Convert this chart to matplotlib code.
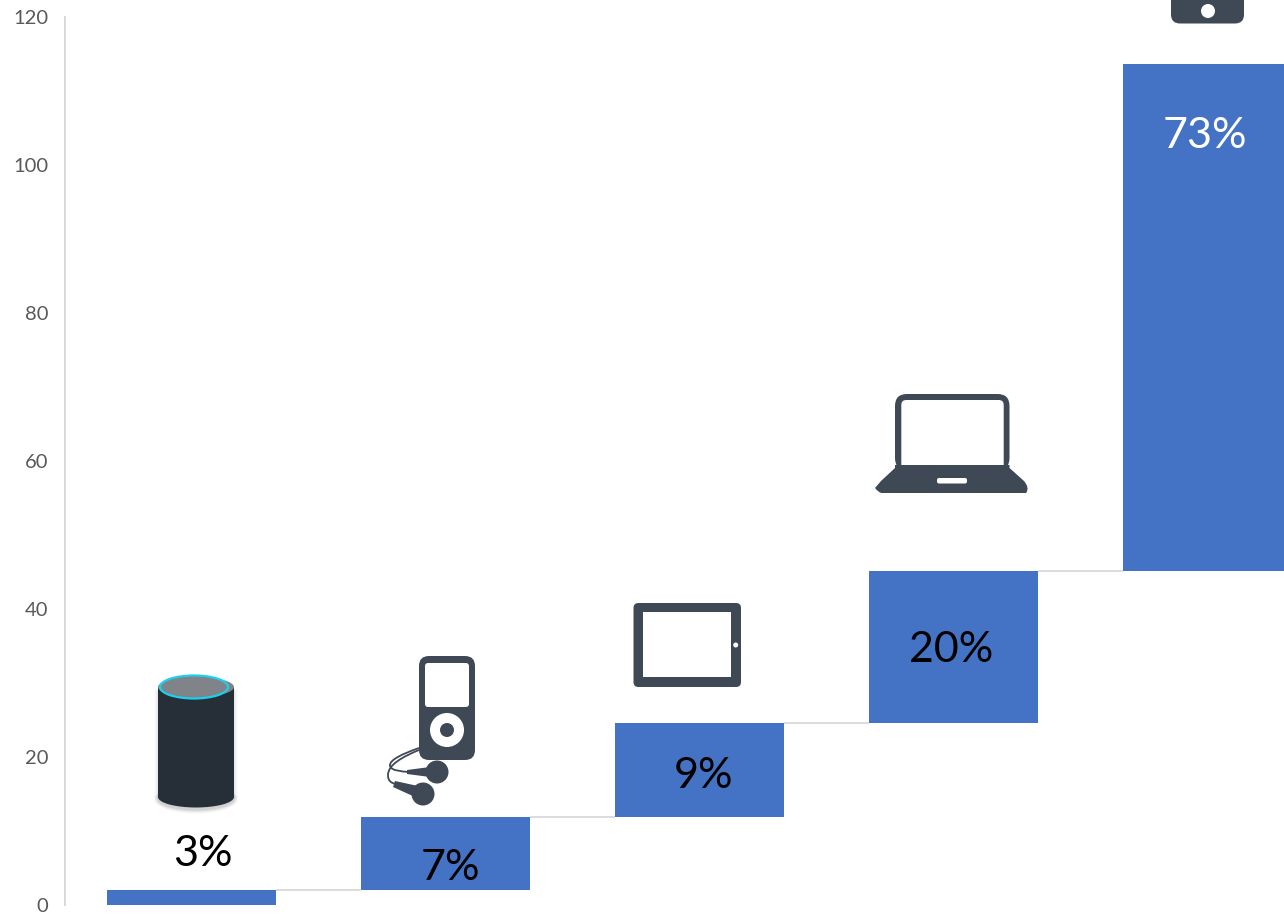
import matplotlib
matplotlib.use('Agg')
import matplotlib.pyplot as plt
from matplotlib.patches import FancyBboxPatch, Rectangle, Circle, Ellipse, Polygon, PathPatch
from matplotlib.path import Path
import numpy as np

# share of the total per device, stacked as a waterfall
categories = ['Speaker', 'Music player', 'Tablet', 'Laptop', 'Phone']
step_values = [2.0, 9.9, 12.7, 20.5, 68.5]
pct_labels = ['3%', '7%', '9%', '20%', '73%']
y_ticks = [0, 20, 40, 60, 80, 100, 120]

BAR = '#4472c4'
ICON = '#3f4956'
GREY = '#d9d9d9'

plt.rcParams['font.family'] = ['Lato', 'DejaVu Sans']

W, H = 1284, 915
fig = plt.figure(figsize=(W / 100, H / 100), dpi=100, facecolor='white')

# plot area in pixels: x 65..1284, y 905..17
ax = fig.add_axes([65 / W, (H - 905) / H, (W - 65) / W, 888 / H])
xpos = np.arange(len(categories))
ends = np.cumsum(step_values)
starts = ends - np.array(step_values)
bar_w = 169 / 254
ax.bar(xpos, step_values, bottom=starts, width=bar_w, color=BAR, linewidth=0, zorder=3)
for i in range(len(xpos) - 1):
    ax.plot([xpos[i] + bar_w / 2, xpos[i + 1] - bar_w / 2], [ends[i], ends[i]],
            color=GREY, lw=1.3, zorder=2, solid_capstyle='butt')

ax.set_xlim(-126.5 / 254, (1284 - 191.5) / 254)
ax.set_ylim(0, 120)
ax.set_xticks([])
ax.set_yticks(y_ticks)
ax.tick_params(axis='y', length=0, pad=12, labelsize=14.5, labelcolor='#595959')
for s in ['top', 'right', 'bottom']:
    ax.spines[s].set_visible(False)
ax.spines['left'].set_color(GREY)
ax.spines['left'].set_linewidth(1.4)

# overlay in pixel coordinates for the icons and the hand placed labels
ov = fig.add_axes([0, 0, 1, 1], facecolor='none')
ov.set_xlim(0, W)
ov.set_ylim(H, 0)
ov.axis('off')


def round_box(x0, y0, x1, y1, r, color):
    ov.add_patch(FancyBboxPatch((x0, y0), x1 - x0, y1 - y0, boxstyle='round,pad=0,rounding_size=%g' % r,
                                fc=color, ec='none'))


# speaker, soft shadow first
for grow, a in [(8, 0.03), (6, 0.04), (4, 0.05), (2, 0.06)]:
    ov.add_patch(Ellipse((196, 799), 76 + grow, 21 + grow, fc='#000000', ec='none', alpha=a))
    ov.add_patch(Rectangle((158 - grow / 2, 690), 76 + grow, 108, fc='#000000', ec='none', alpha=a * 0.5))
ov.add_patch(Ellipse((196, 797), 76, 21, fc='#262f38', ec='none'))
ov.add_patch(Rectangle((158, 687), 76, 110, fc='#262f38', ec='none'))
ov.add_patch(Ellipse((196, 687), 76, 20, fc='#808488', ec='none'))
ov.add_patch(Ellipse((194, 687), 68, 23, fc='#808488', ec='#1ccfee', lw=1.6))

# music player with earbuds
round_box(419, 656, 475, 760, 10, ICON)
round_box(425, 663, 469, 707, 3, 'white')
ov.add_patch(Circle((447, 730), 17, fc='white', ec='none'))
ov.add_patch(Circle((447, 730), 7, fc=ICON, ec='none'))
ov.add_patch(Circle((437, 772), 11.5, fc=ICON, ec='none'))
ov.add_patch(Circle((423, 794), 11.5, fc=ICON, ec='none'))
ov.add_patch(Polygon([(407, 770), (430, 767), (430, 777), (407, 774)], fc=ICON, ec='none'))
ov.add_patch(Polygon([(395, 781), (418, 786), (415, 797), (393, 787)], fc=ICON, ec='none'))
wire1 = Path([(419, 748), (402, 754), (389, 760), (390, 766), (392, 771), (400, 771), (408, 772)],
             [Path.MOVETO] + [Path.CURVE4] * 6)
wire2 = Path([(419, 750), (402, 757), (388, 765), (388, 775), (388, 781), (391, 783), (396, 784)],
             [Path.MOVETO] + [Path.CURVE4] * 6)
for w in (wire1, wire2):
    ov.add_patch(PathPatch(w, fc='none', ec=ICON, lw=1.3))

# tablet
round_box(633.5, 603, 741, 687, 5, ICON)
ov.add_patch(Rectangle((642.7, 611.7), 88.3, 65.3, fc='white', ec='none'))
ov.add_patch(Circle((735.7, 645), 2.5, fc='white', ec='none'))

# laptop
round_box(895, 394, 1009.5, 470, 12, ICON)
round_box(901.3, 400, 1003.7, 480, 5, 'white')
base = Path([(895, 465), (1009.5, 465), (1009.5, 468), (1024, 481), (1030, 488), (1026, 493), (1023, 493),
             (882, 493), (879, 493), (875, 488), (881, 481), (895, 468), (895, 465)],
            [Path.MOVETO, Path.LINETO, Path.LINETO, Path.LINETO, Path.CURVE3, Path.CURVE3, Path.LINETO,
             Path.LINETO, Path.CURVE3, Path.CURVE3, Path.LINETO, Path.LINETO, Path.CLOSEPOLY])
ov.add_patch(PathPatch(base, fc=ICON, ec='none'))
round_box(937, 478, 967, 483.5, 2, 'white')

# phone, cut off by the top edge
round_box(1171, -40, 1244, 23.5, 9, ICON)
ov.add_patch(Circle((1208, 11), 7, fc='white', ec='none'))

# percentage labels, placed by hand as in the source
label_px = [(203, 851), (450, 864), (704, 773), (951, 647), (1205, 133)]
label_col = ['black', 'black', 'black', 'black', 'white']
for txt, (px, py), c in zip(pct_labels, label_px, label_col):
    ov.text(px, py, txt, ha='center', va='center_baseline', fontsize=31, color=c)

fig.savefig('out.png', dpi=100, facecolor='white')
